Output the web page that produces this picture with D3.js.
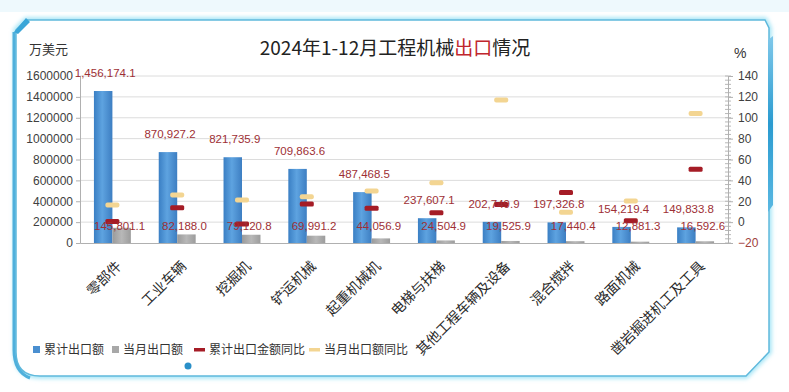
<!DOCTYPE html>
<html><head><meta charset="utf-8">
<script src="https://cdn.jsdelivr.net/npm/d3@7"></script>
<style>
html,body{margin:0;padding:0;background:#fff;}
svg{display:block;font-family:"Noto Sans CJK SC","Liberation Sans",sans-serif;}
</style></head>
<body>
<svg id="c" width="789" height="392"></svg>
<script>
const categories = ["零部件","工业车辆","挖掘机","铲运机械","起重机械机","电梯与扶梯","其他工程车辆及设备","混合搅拌","路面机械","凿岩掘进机工及工具"];
const cumExport = [1456174.1, 870927.2, 821735.9, 709863.6, 487468.5, 237607.1, 202749.9, 197326.8, 154219.4, 149833.8];
const monthExport = [145801.1, 82188.0, 79120.8, 69991.2, 44056.9, 24504.9, 19525.9, 17440.4, 12881.3, 16592.6];
const cumYoY = [0.5, 13.8, -1.8, 17.3, 13.2, 9.0, 17.0, 28.5, 1.3, 50.6];
const monthYoY = [16.4, 26.0, 21.2, 24.3, 29.8, 37.8, 117.0, 9.4, 20.2, 104.0];
const leftTicks = [0,200000,400000,600000,800000,1000000,1200000,1400000,1600000];
const rightTicks = [-20,0,20,40,60,80,100,120,140];
const seriesNames = ["累计出口额","当月出口额","累计出口金额同比","当月出口额同比"];

const svg = d3.select("#c");
const defs = svg.append("defs");
const fmt = d3.format(",.1f");

const glow = defs.append("filter").attr("id","glow").attr("x","-5%").attr("y","-5%").attr("width","110%").attr("height","110%");
glow.append("feGaussianBlur").attr("stdDeviation",2.2);
const gBlue = defs.append("linearGradient").attr("id","gb").attr("x1","0").attr("x2","1");
gBlue.append("stop").attr("offset","0").attr("stop-color","#3a7fc4");
gBlue.append("stop").attr("offset","0.45").attr("stop-color","#5ea3e0");
gBlue.append("stop").attr("offset","1").attr("stop-color","#3d7ec2");
const gGray = defs.append("linearGradient").attr("id","gg").attr("x1","0").attr("x2","1");
gGray.append("stop").attr("offset","0").attr("stop-color","#9a9a9a");
gGray.append("stop").attr("offset","0.5").attr("stop-color","#b8b8b8");
gGray.append("stop").attr("offset","1").attr("stop-color","#9c9c9c");
const gSide = defs.append("linearGradient").attr("id","gs").attr("x1","0").attr("x2","0").attr("y1","0").attr("y2","1");
gSide.append("stop").attr("offset","0").attr("stop-color","#7fc8ea");
gSide.append("stop").attr("offset","0.5").attr("stop-color","#2a9bd0");
gSide.append("stop").attr("offset","1").attr("stop-color","#5ab8e2");

svg.append("rect").attr("x",0).attr("y",0).attr("width",789).attr("height",12).attr("fill","#eef9fd");
const framePath = "M16,30 L26,20 L765,20 L769,28 L769,352 L746,376 L40,376 Q16,376 16,352 Z";
svg.append("path").attr("d",framePath).attr("fill","none").attr("stroke","#9ee3f5").attr("stroke-width",5).attr("filter","url(#glow)");
svg.append("path").attr("d",framePath).attr("fill","#fff").attr("stroke","#5fb9dc").attr("stroke-width",1.5);
svg.append("path").attr("d","M14,32 L14,350 Q14,372 30,378").attr("fill","none").attr("stroke","#4fb0dc").attr("stroke-width",3);
svg.append("path").attr("d","M14,32 L26,18 L30,22 L18,34 Z").attr("fill","#3aa6d8");
svg.append("path").attr("d","M768,40 L773,36 L773,205 L768,212 Z").attr("fill","url(#gs)");
svg.append("circle").attr("cx",188).attr("cy",366).attr("r",3.5).attr("fill","#2a8fc8");

const L = 80, R = 728, T = 76, B = 243;
const x = d3.scaleBand().domain(categories).range([L,R]).paddingInner(0.43).paddingOuter(0.215);
const xs = d3.scaleBand().domain(["cum","mon"]).range([0,x.bandwidth()]);
const y = d3.scaleLinear().domain([0,1600000]).range([B,T]);
const y2 = d3.scaleLinear().domain([-20,140]).range([B,T]);
const cx = c => x(c) + x.bandwidth()/2;

svg.append("g").selectAll("line").data(leftTicks.slice(1)).join("line")
  .attr("x1",L).attr("x2",R).attr("y1",d=>y(d)).attr("y2",d=>y(d))
  .attr("stroke","#dcdcdc").attr("stroke-width",1);

const ga = svg.append("g").attr("transform",`translate(${L},0)`)
  .call(d3.axisLeft(y).tickValues(leftTicks).tickFormat(d3.format("d")).tickSize(4).tickPadding(3));
ga.select(".domain").attr("stroke","#b0b0b0");
ga.selectAll(".tick line").attr("stroke","#b0b0b0");
ga.selectAll("text").attr("font-size",12).attr("fill","#404040").attr("font-family","Liberation Sans, sans-serif");

const minor = d3.range(-20,140.1,4);
svg.append("g").selectAll("line").data(minor).join("line")
  .attr("x1",R-3).attr("x2",R+3).attr("y1",d=>y2(d)).attr("y2",d=>y2(d)).attr("stroke","#b8b8b8");
const gr = svg.append("g").attr("transform",`translate(${R},0)`)
  .call(d3.axisRight(y2).tickValues(rightTicks).tickSize(5).tickPadding(5));
gr.select(".domain").attr("stroke","#b0b0b0");
gr.selectAll(".tick line").attr("stroke","#b0b0b0");
gr.selectAll("text").attr("font-size",12).attr("fill",d=>d<0?"#a0403c":"#404040").attr("font-family","Liberation Sans, sans-serif");

const gx = svg.append("g").attr("transform",`translate(0,${B})`)
  .call(d3.axisBottom(x).tickSize(0).tickFormat(""));
gx.select(".domain").attr("stroke","#b0b0b0");

const bars = svg.append("g");
bars.selectAll("rect.cum").data(categories).join("rect").attr("class","cum")
  .attr("x",c=>x(c)+xs("cum")).attr("width",xs.bandwidth())
  .attr("y",(c,i)=>y(cumExport[i])).attr("height",(c,i)=>y(0)-y(cumExport[i]))
  .attr("fill","url(#gb)");
bars.selectAll("rect.mon").data(categories).join("rect").attr("class","mon")
  .attr("x",c=>x(c)+xs("mon")).attr("width",xs.bandwidth())
  .attr("y",(c,i)=>y(monthExport[i])).attr("height",(c,i)=>y(0)-y(monthExport[i]))
  .attr("fill","url(#gg)");

const mk = svg.append("g");
mk.selectAll("rect.m2").data(categories).join("rect").attr("class","m2")
  .attr("x",c=>cx(c)-7).attr("width",14).attr("y",(c,i)=>y2(monthYoY[i])-2.5).attr("height",5).attr("rx",2)
  .attr("fill","#f3d592");
mk.selectAll("rect.m1").data(categories).join("rect").attr("class","m1")
  .attr("x",c=>cx(c)-7).attr("width",14).attr("y",(c,i)=>y2(cumYoY[i])-2.5).attr("height",5).attr("rx",1.5)
  .attr("fill","#a51c26");

const lab = svg.append("g").attr("font-family","Liberation Sans, sans-serif").attr("font-size",11.5).attr("fill","#9e2f35").attr("text-anchor","middle");
lab.selectAll("text.c").data(categories).join("text").attr("class","c")
  .attr("x",c=>x(c)+xs("cum")+xs.bandwidth()/2+2).attr("y",(c,i)=>y(cumExport[i])-14)
  .text((c,i)=>fmt(cumExport[i]));
lab.selectAll("text.m").data(categories).join("text").attr("class","m")
  .attr("x",c=>x(c)+xs("mon")+xs.bandwidth()/2-2).attr("y",y(0)-13)
  .text((c,i)=>fmt(monthExport[i]));

svg.append("g").selectAll("text").data(categories).join("text")
  .attr("transform",c=>`translate(${cx(c)+10},${B+24}) rotate(-45)`)
  .attr("text-anchor","end").attr("font-size",14).attr("fill","#2a2a2a")
  .text(c=>c);

const title = svg.append("text").attr("x",395).attr("y",55).attr("text-anchor","middle").attr("font-size",19).attr("fill","#222");
title.append("tspan").text("2024年1-12月工程机械");
title.append("tspan").attr("fill","#c0262d").text("出口");
title.append("tspan").text("情况");
svg.append("text").attr("x",29).attr("y",54).attr("font-size",13).attr("fill","#333").text("万美元");
svg.append("text").attr("x",734).attr("y",58).attr("font-size",14).attr("fill","#333").attr("font-family","Liberation Sans, sans-serif").text("%");

const lg = svg.append("g").attr("font-size",12).attr("fill","#333");
const legX = [33, 112, 194, 309];
const legW = [7, 7, 11, 11];
const legC = ["#4a8fd0","#a8a8a8","#a51c26","#f3d592"];
seriesNames.forEach((n,i)=>{
  if(i<2) lg.append("rect").attr("x",legX[i]).attr("y",346).attr("width",7).attr("height",7).attr("fill",legC[i]);
  else lg.append("rect").attr("x",legX[i]).attr("y",348).attr("width",11).attr("height",3.5).attr("fill",legC[i]);
  lg.append("text").attr("x",legX[i]+legW[i]+4).attr("y",354).text(n);
});
</script>
</body></html>
